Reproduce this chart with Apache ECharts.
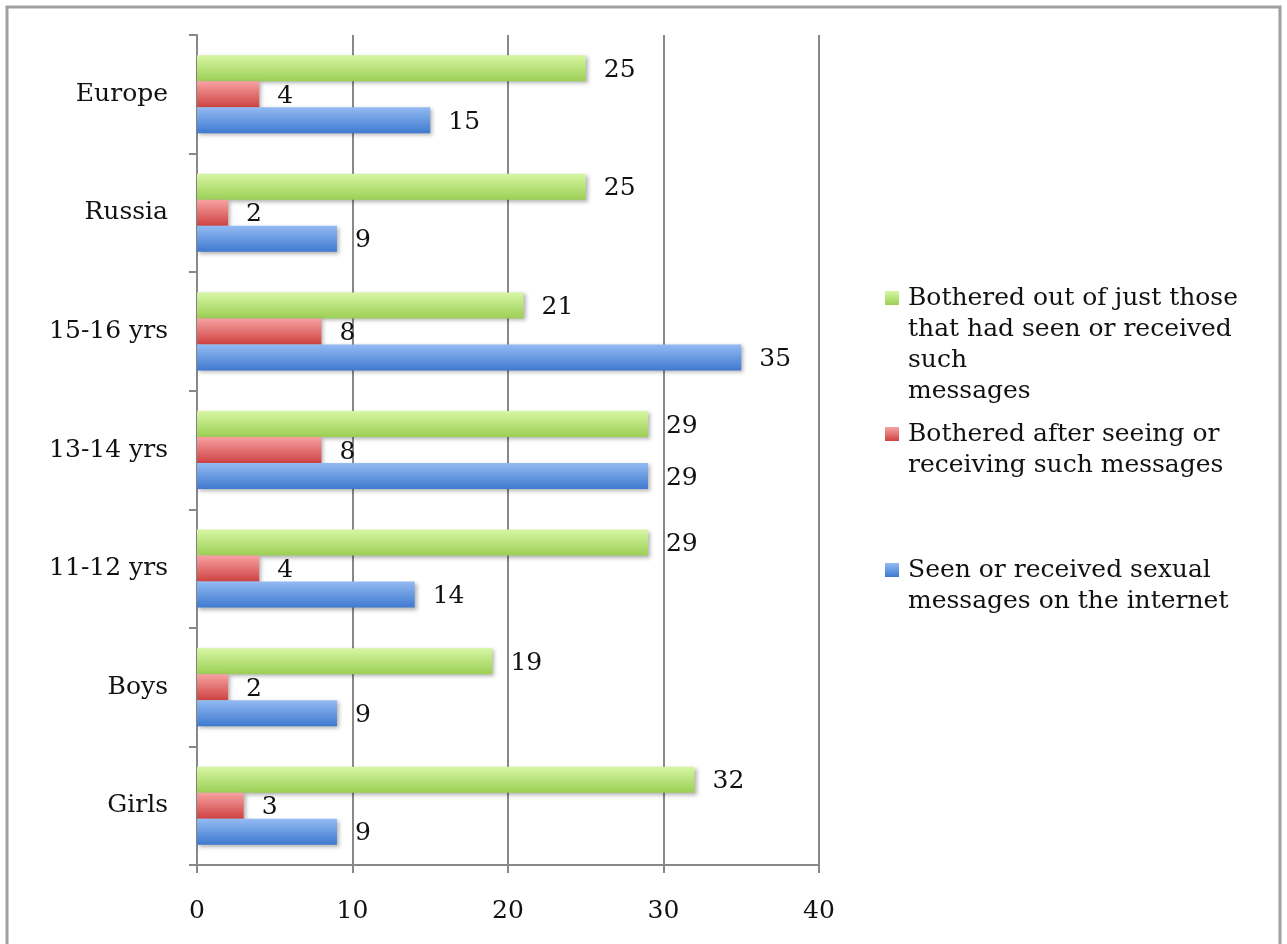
<!DOCTYPE html>
<html>
<head>
<meta charset="utf-8">
<script src="https://cdn.jsdelivr.net/npm/echarts@6/dist/echarts.min.js"></script>
<style>html,body{margin:0;padding:0;background:#fff;}#c{width:1287px;height:944px;}</style>
</head>
<body>
<div id="c"></div>
<script>
var categories = ['Girls', 'Boys', '11-12 yrs', '13-14 yrs', '15-16 yrs', 'Russia', 'Europe'];
var seenValues = [9, 9, 14, 29, 35, 9, 15];
var botheredValues = [3, 2, 4, 8, 8, 2, 4];
var botheredOfSeenValues = [32, 19, 29, 29, 21, 25, 25];
var xTicks = [0, 10, 20, 30, 40];

var nameSeen = 'Seen or received sexual\nmessages on the internet';
var nameBothered = 'Bothered after seeing or\nreceiving such messages';
var nameBotheredOfSeen = 'Bothered out of just those\nthat had seen or received\nsuch\nmessages';

var FONT = 'DejaVu Serif';
var FS = 25;
var LH = 31;

function grad(top, bottom) {
  return new echarts.graphic.LinearGradient(0, 0, 0, 1, [
    {offset: 0, color: top}, {offset: 1, color: bottom}
  ]);
}
function barSeries(name, data, c1, c2) {
  return {
    name: name, type: 'bar', data: data, barWidth: 26, barGap: '0%',
    itemStyle: {color: grad(c1, c2), shadowColor: 'rgba(0,0,0,0.3)', shadowBlur: 4, shadowOffsetX: 2, shadowOffsetY: 2},
    label: {show: true, position: 'right', distance: 18, offset: [0, 2], color: '#111', fontFamily: FONT, fontSize: FS},
    emphasis: {disabled: true}
  };
}
// multi-line legend text: pad with blank lines above so the first line sits beside the icon
function legendFor(name, iconCenter) {
  var lines = name.split('\n').length;
  var top = iconCenter - (2 * lines - 1) * LH / 2 - 5;
  return {
    data: [name], orient: 'vertical', left: 880, top: top,
    itemWidth: 18, itemHeight: 14, selectedMode: false,
    icon: 'path://M0,0H14V14H0Z M18,14L18,14',
    formatter: function (n) { return new Array(lines).join('\n') + n; },
    textStyle: {fontFamily: FONT, fontSize: FS, color: '#111', lineHeight: LH}
  };
}

var chart = echarts.init(document.getElementById('c'));
chart.setOption({
  animation: false,
  backgroundColor: '#fff',
  grid: {left: 197, right: 468, top: 35, bottom: 79},
  xAxis: {
    type: 'value', min: xTicks[0], max: xTicks[xTicks.length - 1], interval: 10,
    axisLine: {show: true, lineStyle: {color: '#888', width: 2}},
    axisTick: {show: true, length: 8, lineStyle: {color: '#888', width: 2}},
    axisLabel: {margin: 34, color: '#111', fontFamily: FONT, fontSize: FS},
    splitLine: {show: true, lineStyle: {color: '#888', width: 2}}
  },
  yAxis: {
    type: 'category', data: categories,
    axisLine: {show: true, lineStyle: {color: '#888', width: 2}},
    axisTick: {show: true, length: 8, lineStyle: {color: '#888', width: 2}},
    axisLabel: {margin: 29, color: '#111', fontFamily: FONT, fontSize: FS}
  },
  legend: [
    legendFor(nameBotheredOfSeen, 298),
    legendFor(nameBothered, 434),
    legendFor(nameSeen, 570)
  ],
  graphic: [{
    type: 'rect', shape: {x: 7, y: 7, width: 1273, height: 1000},
    style: {fill: 'none', stroke: '#a0a0a0', lineWidth: 3}, silent: true
  }],
  series: [
    barSeries(nameBotheredOfSeen, botheredOfSeenValues, '#d7f6a3', '#9ccf55'),
    barSeries(nameBothered, botheredValues, '#f7a2a2', '#cf4242'),
    barSeries(nameSeen, seenValues, '#93bbf3', '#3f79cf')
  ]
});
</script>
</body>
</html>
